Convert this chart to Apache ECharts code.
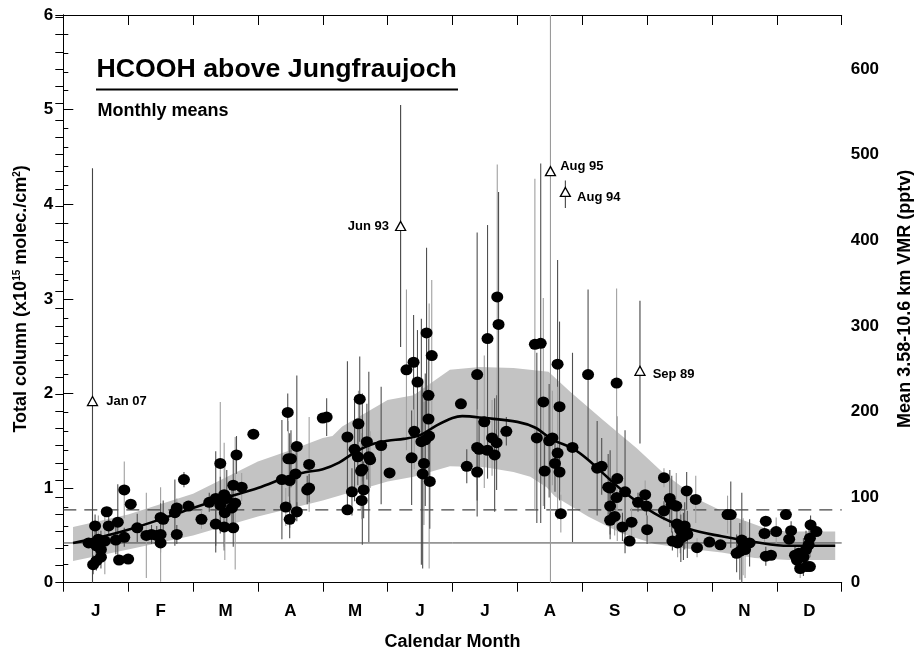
<!DOCTYPE html>
<html>
<head>
<meta charset="utf-8">
<script src="https://cdn.jsdelivr.net/npm/echarts@6/dist/echarts.min.js"></script>
<style>
html,body{margin:0;padding:0;background:#fff;}
#chart{width:914px;height:651px;}
</style>
</head>
<body>
<div id="chart"></div>
<script>
// ---------- DATA ----------
const monthLabels = ['J','F','M','A','M','J','J','A','S','O','N','D'];

// monthly means: x = calendar month (0 = 1 Jan, 12 = 31 Dec), y = total column (1e15 molec/cm2), err = half length of error bar
const pointX = [0.49,0.67,0.70,0.84,0.94,1.04,0.39,0.54,0.51,0.58,0.64,0.81,0.94,0.58,0.51,0.46,0.86,1.00,1.14,1.28,1.36,1.44,1.50,1.50,1.54,1.50,1.75,1.72,1.75,1.86,1.93,2.13,2.25,2.35,2.42,2.35,2.42,2.48,2.52,2.48,2.49,2.60,2.62,2.65,2.62,2.67,2.75,2.93,
3.37,3.43,3.49,3.46,3.47,3.51,3.49,3.58,3.60,3.60,3.79,3.76,3.79,4.00,4.06,4.38,4.38,4.45,4.49,4.55,4.57,4.54,4.59,4.61,4.63,4.60,4.68,4.71,4.73,4.90,5.03,5.29,5.40,5.46,5.41,5.37,5.52,5.56,5.54,5.60,5.68,5.63,5.63,5.64,5.58,5.65,
6.13,6.22,6.38,6.38,6.41,6.38,6.49,6.54,6.54,6.61,6.65,6.68,6.69,6.71,6.83,7.27,7.36,7.30,7.40,7.42,7.49,7.54,7.62,7.65,7.62,7.58,7.65,7.67,7.85,
8.09,8.53,8.23,8.30,8.54,8.40,8.43,8.53,8.66,8.43,8.50,8.43,8.62,8.76,8.73,8.86,8.97,8.99,9.00,9.26,9.35,9.38,9.45,9.26,9.61,9.75,9.46,9.58,9.51,9.62,9.39,9.47,9.52,9.56,9.77,9.96,
10.13,10.24,10.29,10.46,10.48,10.38,10.43,10.51,10.58,10.83,10.81,10.83,10.91,10.99,11.14,11.22,11.19,11.28,11.31,11.36,11.41,11.45,11.49,11.51,11.52,11.61,11.51,11.46,11.34];
const pointY = [0.60,0.75,0.60,0.64,0.98,0.83,0.42,0.46,0.39,0.35,0.44,0.45,0.48,0.27,0.23,0.19,0.24,0.25,0.58,0.50,0.51,0.50,0.51,0.69,0.67,0.42,0.51,0.74,0.79,1.09,0.81,0.67,0.85,0.89,1.26,0.62,0.82,0.93,0.89,0.59,0.74,0.79,0.58,0.84,1.03,1.35,1.01,1.57,
1.09,0.80,0.67,1.80,1.31,1.31,1.08,1.15,1.44,0.75,1.25,0.98,1.00,1.74,1.75,1.54,0.77,0.96,1.41,1.68,1.94,1.33,1.18,1.20,0.98,0.87,1.49,1.33,1.30,1.45,1.16,2.25,2.33,2.12,1.60,1.32,1.49,1.26,1.15,2.64,2.40,1.98,1.73,1.55,1.51,1.07,
1.89,1.23,2.20,1.43,1.41,1.17,1.70,2.58,1.40,1.53,1.35,1.48,3.02,2.73,1.60,2.52,2.53,1.53,1.91,1.18,1.50,1.53,2.31,1.86,1.37,1.26,1.17,0.73,1.43,
2.20,2.11,1.21,1.23,1.10,1.01,1.00,0.90,0.96,0.81,0.70,0.66,0.59,0.64,0.44,0.85,0.93,0.81,0.56,1.11,0.89,0.83,0.81,0.76,0.97,0.88,0.62,0.60,0.56,0.51,0.44,0.42,0.47,0.49,0.37,0.43,
0.40,0.72,0.72,0.45,0.38,0.31,0.33,0.35,0.42,0.65,0.52,0.28,0.29,0.54,0.72,0.55,0.46,0.29,0.24,0.15,0.27,0.35,0.40,0.47,0.61,0.54,0.17,0.17,0.31];
const pointErr = [0.12,0.05,0.10,0.40,0.30,0.05,0.05,0.25,0.20,0.20,0.35,0.15,0.10,0.10,0.10,0.10,0.05,0.05,0.15,0.45,0.10,0.10,0.50,0.15,0.20,0.10,0.10,0.35,0.10,0.08,0.05,0.10,0.10,0.50,0.65,0.30,0.30,0.55,0.30,0.25,0.50,0.20,0.20,0.70,0.30,0.20,0.15,0.05,
0.63,0.20,0.20,0.20,0.40,0.30,0.50,0.35,0.75,0.10,0.50,0.15,0.15,0.05,0.20,0.80,0.05,0.25,0.55,0.35,0.45,0.30,0.40,0.80,0.30,0.20,0.40,0.90,0.30,0.62,0.05,0.85,0.50,0.55,0.40,0.50,1.30,0.65,1.00,0.90,0.80,0.60,0.60,1.40,0.70,0.50,
0.05,0.18,1.50,0.40,0.30,0.30,0.70,1.20,0.30,0.40,0.60,0.50,1.40,1.40,0.15,1.75,1.90,0.90,1.10,0.40,0.60,0.50,1.10,0.90,0.70,0.30,0.30,0.20,1.00,
0.90,1.00,0.50,0.30,0.66,0.35,0.40,0.30,0.65,0.30,0.20,0.20,0.15,0.15,0.05,0.10,0.15,0.10,0.15,0.10,0.30,0.30,0.35,0.10,0.20,0.25,0.25,0.25,0.25,0.25,0.10,0.15,0.25,0.25,0.10,0.05,
0.05,0.20,0.35,0.50,0.30,0.20,0.30,0.30,0.25,0.05,0.10,0.10,0.05,0.15,0.03,0.10,0.05,0.10,0.10,0.10,0.20,0.20,0.25,0.20,0.10,0.05,0.03,0.05,0.05];

// outliers (open triangles)
const outlierNames = ['Jan 07','Jun 93','Aug 95','Aug 94','Sep 89'];
const outlierX = [0.45,5.20,7.51,7.74,8.89];
const outlierY = [1.92,3.77,4.35,4.13,2.24];
const outlierLo = [0.00,2.49,0.00,3.96,1.47];
const outlierHi = [4.38,5.05,6.00,4.25,2.98];

// seasonal fit curve
const fitX = [0.15,0.5,1.0,1.5,2.0,2.5,3.0,3.5,3.75,4.0,4.25,4.5,4.75,5.0,5.25,5.5,5.75,6.0,6.15,6.5,7.0,7.27,7.55,7.85,8.09,8.61,9.12,9.64,10.15,10.66,11.18,11.9];
const fitY = [0.42,0.47,0.56,0.67,0.79,0.90,1.00,1.13,1.17,1.20,1.27,1.38,1.46,1.50,1.52,1.56,1.66,1.74,1.76,1.74,1.70,1.64,1.51,1.42,1.30,0.98,0.73,0.57,0.49,0.43,0.39,0.39];

// 1-sigma band around the fit
const bandUpX = [0.15,1.0,2.0,3.0,3.5,4.0,4.15,4.3,5.0,5.4,5.96,6.42,6.94,7.48,7.81,8.32,8.84,9.25,9.82,10.33,10.84,11.15,11.9];
const bandUp = [0.59,0.72,0.94,1.28,1.40,1.53,1.55,1.65,1.93,1.98,2.25,2.28,2.27,2.23,2.02,1.72,1.42,1.16,0.87,0.70,0.57,0.54,0.54];
const bandLoX = [0.15,1.0,2.0,3.0,4.0,5.0,5.4,5.96,6.5,6.94,7.2,7.45,7.58,8.09,8.61,9.12,9.64,10.15,10.66,11.18,11.9];
const bandLo = [0.23,0.35,0.50,0.70,0.87,1.07,1.12,1.23,1.22,1.17,1.12,1.01,0.91,0.70,0.52,0.41,0.36,0.32,0.26,0.24,0.24];

// reference levels
const refSolid = 0.42;
const refDashed = 0.77;

// axes
const yLeftMax = 6;
const yRightMax = 663;

// ---------- CHART ----------
const FONT = '"Liberation Sans", Arial, Helvetica, sans-serif';
const chart = echarts.init(document.getElementById('chart'), null, {renderer:'canvas'});

const points = pointX.map((x,i)=>[x, pointY[i]]);
const errData = pointX.map((x,i)=>[x, pointY[i]-pointErr[i], pointY[i]+pointErr[i], i]);
const outErr = outlierX.map((x,i)=>[x, outlierLo[i], outlierHi[i], i]);
const fitData = fitX.map((x,i)=>[x, fitY[i]]);

const labelCfg = [
  {position:'right', distance:8, offset:[0,0]},
  {position:'left', distance:6, offset:[0,0]},
  {position:'right', distance:4, offset:[0,-5]},
  {position:'right', distance:6, offset:[0,5]},
  {position:'right', distance:7, offset:[0,4]}
];
const outData = outlierX.map((x,i)=>({
  value:[x, outlierY[i]],
  label:{show:true, formatter: outlierNames[i], position: labelCfg[i].position,
         distance: labelCfg[i].distance, offset: labelCfg[i].offset,
         fontFamily: FONT, fontWeight:'bold', fontSize:13, color:'#000'}
}));

function errRender(colorFn){
  return function(params, api){
    const x = api.value(0);
    const lo = Math.max(0, api.value(1));
    const hi = Math.min(yLeftMax, api.value(2));
    const p1 = api.coord([x, lo]);
    const p2 = api.coord([x, hi]);
    return {type:'line', shape:{x1:p1[0], y1:p1[1], x2:p2[0], y2:p2[1]},
            style:{stroke: colorFn(api.value(3)), lineWidth:1.1}};
  };
}

const option = {
  animation:false,
  backgroundColor:'#fff',
  grid:{left:63.3, right:72.3, top:15, bottom:68.3, containLabel:false, outerBoundsMode:'none'},
  xAxis:[
    {type:'value', min:0, max:12, interval:1, position:'bottom',
     axisLine:{show:true, lineStyle:{color:'#000', width:1}},
     axisTick:{show:true, inside:false, length:9, lineStyle:{color:'#000'}},
     axisLabel:{show:false}, splitLine:{show:false},
     name:'Calendar Month', nameLocation:'middle', nameGap:50,
     nameTextStyle:{fontFamily:FONT, fontWeight:'bold', fontSize:18, color:'#000'}},
    {type:'category', data:monthLabels, position:'bottom', boundaryGap:true,
     axisLine:{show:false}, axisTick:{show:false}, splitLine:{show:false},
     axisLabel:{show:true, margin:20, fontFamily:FONT, fontWeight:'bold', fontSize:17, color:'#000'}},
    {type:'value', min:0, max:12, interval:1, position:'top',
     axisLine:{show:true, lineStyle:{color:'#000', width:1}},
     axisTick:{show:true, inside:true, length:10, lineStyle:{color:'#000'}},
     axisLabel:{show:false}, splitLine:{show:false}}
  ],
  yAxis:[
    {type:'value', min:0, max:yLeftMax, interval:1, position:'left',
     axisLine:{show:true, lineStyle:{color:'#000', width:1}},
     axisTick:{show:true, inside:true, length:10, lineStyle:{color:'#000'}},
     minorTick:{show:true, splitNumber:5, length:5, lineStyle:{color:'#000'}},
     axisLabel:{margin:10, fontFamily:FONT, fontWeight:'bold', fontSize:17, color:'#000'},
     splitLine:{show:false}, minorSplitLine:{show:false},
     name:'Total column (x10{sup|15} molec./cm{sup|2})', nameLocation:'middle', nameGap:33, nameRotate:90,
     nameTextStyle:{fontFamily:FONT, fontWeight:'bold', fontSize:18, color:'#000',
       rich:{sup:{fontFamily:FONT, fontWeight:'bold', fontSize:10, color:'#000', verticalAlign:'top', padding:[0,0,8,0]}}}},
    {type:'value', min:0, max:yRightMax, interval:20, position:'right',
     axisLine:{show:true, lineStyle:{color:'#000', width:1}},
     axisTick:{show:true, inside:true, length:8, lineStyle:{color:'#000'}},
     axisLabel:{margin:9, fontFamily:FONT, fontWeight:'bold', fontSize:17, color:'#000',
       formatter:function(v){ return (Math.round(v)%100===0 && v<=600.5) ? String(Math.round(v)) : ''; }},
     splitLine:{show:false},
     name:'Mean 3.58-10.6 km VMR (pptv)', nameLocation:'middle', nameGap:54, nameRotate:90,
     nameTextStyle:{fontFamily:FONT, fontWeight:'bold', fontSize:18, color:'#000'}}
  ],
  graphic:[
    {type:'text', left:96.5, top:56, z:100,
     style:{text:'HCOOH above Jungfraujoch', font:'bold 26.7px '+FONT, fill:'#000'}},
    {type:'line', z:100, shape:{x1:96, y1:89.5, x2:458, y2:89.5}, style:{stroke:'#000', lineWidth:2}},
    {type:'text', left:97.5, top:102, z:100,
     style:{text:'Monthly means', font:'bold 18px '+FONT, fill:'#000'}}
  ],
  series:[
    {type:'custom', name:'band', xAxisIndex:0, yAxisIndex:0, z:1,
     data:[[bandUpX[0], bandUp[0]]], encode:{x:0, y:1}, silent:true,
     renderItem:function(params, api){
       const pts = [];
       for (let i=0;i<bandUpX.length;i++) pts.push(api.coord([bandUpX[i], bandUp[i]]));
       for (let i=bandLoX.length-1;i>=0;i--) pts.push(api.coord([bandLoX[i], bandLo[i]]));
       return {type:'polygon', shape:{points:pts, smooth:0}, style:{fill:'#c3c3c3', stroke:null}};
     }},
    {type:'line', name:'refSolid', xAxisIndex:0, yAxisIndex:0, z:2, symbol:'none', silent:true,
     data:[[0, refSolid],[12, refSolid]], lineStyle:{color:'#444', width:1}},
    {type:'line', name:'refDashed', xAxisIndex:0, yAxisIndex:0, z:2, symbol:'none', silent:true,
     data:[[0, refDashed],[12, refDashed]], lineStyle:{color:'#444', width:1.2, type:[13,8]}},
    {type:'custom', name:'errors', xAxisIndex:0, yAxisIndex:0, z:3, silent:true,
     data:errData, encode:{x:0, y:[1,2]},
     renderItem:errRender(function(i){ return (i%3===1) ? '#a0a0a0' : '#505050'; })},
    {type:'custom', name:'outErrors', xAxisIndex:0, yAxisIndex:0, z:3, silent:true,
     data:outErr, encode:{x:0, y:[1,2]},
     renderItem:errRender(function(i){ return i===2 ? '#9a9a9a' : '#444'; })},
    {type:'line', name:'fit', xAxisIndex:0, yAxisIndex:0, z:4, symbol:'none', smooth:0.35, silent:true,
     data:fitData, lineStyle:{color:'#000', width:2.6}},
    {type:'scatter', name:'means', xAxisIndex:0, yAxisIndex:0, z:5, silent:true,
     symbol:'circle', symbolSize:[12,11], data:points, itemStyle:{color:'#000', opacity:1}},
    {type:'scatter', name:'outliers', xAxisIndex:0, yAxisIndex:0, z:6, silent:true,
     symbol:'triangle', symbolSize:[10,9], data:outData,
     itemStyle:{color:'#fff', borderColor:'#000', borderWidth:1.3, opacity:1}}
  ]
};
chart.setOption(option);
</script>
</body>
</html>
